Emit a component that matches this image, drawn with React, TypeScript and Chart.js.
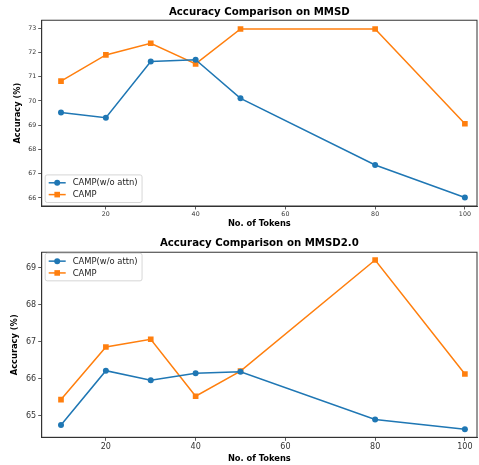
import React, { useEffect, useRef } from "react";
import { Chart, registerables } from "chart.js";

Chart.register(...registerables);

const xTokens = [10, 20, 30, 40, 50, 80, 100];
const mmsdNoAttn = [69.53, 69.31, 71.63, 71.7, 70.11, 67.36, 66.02];
const mmsdCamp = [70.82, 71.9, 72.38, 71.53, 72.97, 72.97, 69.06];
const mmsd2NoAttn = [64.75, 66.22, 65.96, 66.15, 66.19, 64.9, 64.64];
const mmsd2Camp = [65.44, 66.86, 67.07, 65.53, 66.21, 69.21, 66.13];
const xTickValues = [20, 40, 60, 80, 100];
const mmsdYTicks = [66, 67, 68, 69, 70, 71, 72, 73];
const mmsd2YTicks = [65, 66, 67, 68, 69];
const seriesNames = ["CAMP(w/o attn)", "CAMP"];

const BLUE = "#1f77b4";
const ORANGE = "#ff7f0e";
const FONT = "'DejaVu Sans', sans-serif";
const SPINE = "#333";

const framePlugin = {
  id: "frame",
  afterDraw(chart: any) {
    const { ctx, chartArea: a } = chart;
    ctx.save();
    ctx.strokeStyle = SPINE;
    ctx.lineWidth = 1;
    ctx.strokeRect(a.left, a.top, a.right - a.left, a.bottom - a.top);
    ctx.restore();
  },
};

const innerLegendPlugin = {
  id: "innerLegend",
  afterDraw(chart: any, _args: any, opts: any) {
    const { ctx, chartArea: a } = chart;
    const fontSize = 8.4;
    ctx.save();
    ctx.font = `${fontSize}px ${FONT}`;
    const textW = Math.max(...chart.data.datasets.map((d: any) => ctx.measureText(d.label).width));
    const boxW = 27 + textW + 5;
    const rowH = 11.8;
    const boxH = chart.data.datasets.length * rowH + 4;
    const x0 = a.left + 3.5;
    const y0 = opts.place === "lower" ? a.bottom - 3.5 - boxH : a.top + 1;
    ctx.fillStyle = "rgba(255,255,255,0.8)";
    ctx.strokeStyle = "#cccccc";
    ctx.lineWidth = 0.8;
    ctx.beginPath();
    ctx.roundRect(x0, y0, boxW, boxH, 2);
    ctx.fill();
    ctx.stroke();
    chart.data.datasets.forEach((d: any, i: number) => {
      const cy = y0 + 2 + rowH * i + rowH / 2;
      ctx.strokeStyle = d.borderColor;
      ctx.lineWidth = 1.5;
      ctx.beginPath();
      ctx.moveTo(x0 + 3.5, cy);
      ctx.lineTo(x0 + 20.5, cy);
      ctx.stroke();
      ctx.fillStyle = d.borderColor;
      if (d.pointStyle === "rect") {
        ctx.fillRect(x0 + 12 - 2.8, cy - 2.8, 5.6, 5.6);
      } else {
        ctx.beginPath();
        ctx.arc(x0 + 12, cy, 3, 0, Math.PI * 2);
        ctx.fill();
      }
      ctx.fillStyle = "#222";
      ctx.textBaseline = "middle";
      ctx.textAlign = "left";
      ctx.fillText(d.label, x0 + 27.5, cy + 0.5);
    });
    ctx.restore();
  },
};

function makeConfig(p: any): any {
  const mk = (label: string, vals: number[], color: string, style: string) => ({
    label,
    data: xTokens.map((x, i) => ({ x, y: vals[i] })),
    borderColor: color,
    backgroundColor: color,
    borderWidth: 1.5,
    pointStyle: style,
    pointRadius: style === "rect" ? 4 : 3,
    pointBorderWidth: 0,
    tension: 0,
  });
  return {
    type: "line",
    data: {
      datasets: [
        mk(seriesNames[0], p.a, BLUE, "circle"),
        mk(seriesNames[1], p.b, ORANGE, "rect"),
      ],
    },
    options: {
      responsive: false,
      animation: false,
      events: [],
      layout: { autoPadding: false, padding: { left: 0, right: 2, top: 0, bottom: 0 } },
      plugins: {
        legend: { display: false },
        tooltip: { enabled: false },
        title: {
          display: true,
          fullSize: false,
          text: p.title,
          color: "#000",
          font: { family: FONT, size: 10.2, weight: "bold" },
          padding: p.titlePad,
        },
        innerLegend: { place: p.legendPlace },
      },
      scales: {
        x: {
          type: "linear",
          min: 5.7,
          max: 102.7,
          afterBuildTicks: (s: any) => {
            s.ticks = xTickValues.map((v) => ({ value: v }));
          },
          afterFit: (s: any) => {
            s.height = p.xAxisH;
            s.paddingRight = 0;
            s.paddingLeft = 0;
          },
          grid: { drawOnChartArea: false, drawTicks: true, tickLength: 3.5, color: SPINE, lineWidth: 0.8 },
          border: { display: true, color: SPINE, width: 1 },
          ticks: { color: "#333", font: { family: FONT, size: p.tickSize }, padding: 1.5, maxRotation: 0 },
          title: {
            display: true,
            text: "No. of Tokens",
            color: "#000",
            font: { family: FONT, size: 8.3, weight: "bold" },
            padding: { top: 0, bottom: p.xTitlePadB },
          },
        },
        y: {
          type: "linear",
          min: p.ymin,
          max: p.ymax,
          afterBuildTicks: (s: any) => {
            s.ticks = p.yTicks.map((v: number) => ({ value: v }));
          },
          afterFit: (s: any) => {
            s.width = 41.7;
            s.paddingTop = 0;
            s.paddingBottom = 0;
          },
          grid: { drawOnChartArea: false, drawTicks: true, tickLength: 3.5, color: SPINE, lineWidth: 0.8 },
          border: { display: true, color: SPINE, width: 1 },
          ticks: { color: "#333", font: { family: FONT, size: p.tickSize }, padding: 2 },
          title: {
            display: true,
            text: "Accuracy (%)",
            color: "#000",
            font: { family: FONT, size: 8.3, weight: "bold" },
            padding: { top: p.yTitlePadT, bottom: 0 },
          },
        },
      },
    },
    plugins: [framePlugin, innerLegendPlugin],
  };
}

function LineChart(props: { cfg: any; width: number; height: number }) {
  const ref = useRef<HTMLCanvasElement | null>(null);
  useEffect(() => {
    if (!ref.current) return;
    const chart = new Chart(ref.current, makeConfig(props.cfg));
    return () => chart.destroy();
  }, []);
  return (
    <canvas
      ref={ref}
      width={props.width}
      height={props.height}
      style={{ display: "block", width: props.width, height: props.height }}
    />
  );
}

export default function App() {
  useEffect(() => {
    document.body.style.margin = "0";
    document.body.style.background = "#fff";
  }, []);
  const top = {
    title: "Accuracy Comparison on MMSD",
    a: mmsdNoAttn,
    b: mmsdCamp,
    ymin: 65.67,
    ymax: 73.33,
    yTicks: mmsdYTicks,
    tickSize: 6.3,
    titlePad: { top: 6, bottom: 2 },
    xAxisH: 26,
    xTitlePadB: 3,
    yTitlePadT: 13.3,
    legendPlace: "lower",
  };
  const bottom = {
    title: "Accuracy Comparison on MMSD2.0",
    a: mmsd2NoAttn,
    b: mmsd2Camp,
    ymin: 64.42,
    ymax: 69.42,
    yTicks: mmsd2YTicks,
    tickSize: 8,
    titlePad: { top: 5, bottom: 3 },
    xAxisH: 27.7,
    xTitlePadB: 1.3,
    yTitlePadT: 10,
    legendPlace: "upper",
  };
  return (
    <div style={{ width: 479, height: 465, background: "#fff" }}>
      <LineChart cfg={top} width={479} height={232} />
      <LineChart cfg={bottom} width={479} height={233} />
    </div>
  );
}
